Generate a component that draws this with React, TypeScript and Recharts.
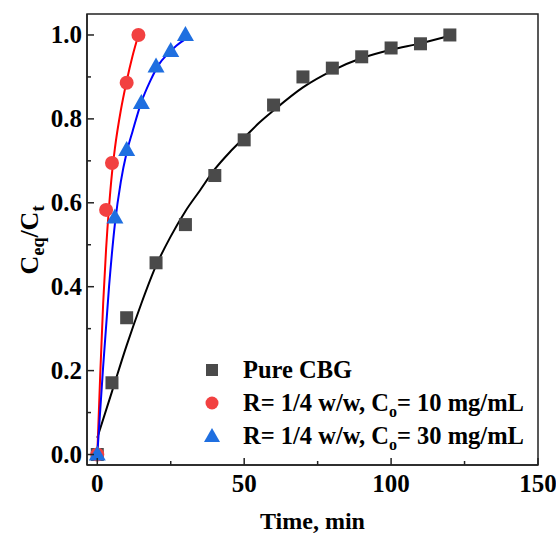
import React from 'react';
import { ComposedChart, Line, Scatter, XAxis, YAxis, ReferenceArea } from 'recharts';

// measured points
const pureTime = [0, 5, 10, 20, 30, 40, 50, 60, 70, 80, 90, 100, 110, 120];
const pureRatio = [0, 0.171, 0.326, 0.457, 0.548, 0.665, 0.75, 0.833, 0.9, 0.921, 0.948, 0.969, 0.979, 1.0];

const c10Time = [0, 3, 5, 10, 14];
const c10Ratio = [0, 0.583, 0.695, 0.886, 1.0];

const c30Time = [0, 6, 10, 15, 20, 25, 30];
const c30Ratio = [0, 0.565, 0.726, 0.838, 0.925, 0.962, 1.0];

// fitted curves
const pureFitTime = [0, 5, 10, 15, 20, 25, 30, 35, 40, 45, 50, 55, 60, 70, 80, 90, 100, 110, 120];
const pureFitRatio = [0.04, 0.15, 0.26, 0.36, 0.45, 0.52, 0.58, 0.63, 0.68, 0.72, 0.755, 0.79, 0.82, 0.875, 0.915, 0.945, 0.965, 0.98, 0.998];

const c10FitTime = [0, 1, 2, 3, 4, 5, 6, 8, 10, 12, 14];
const c10FitRatio = [0, 0.19, 0.36, 0.49, 0.59, 0.67, 0.73, 0.82, 0.89, 0.95, 1.0];

const c30FitTime = [0, 2, 4, 6, 8, 10, 12, 15, 18, 21, 24, 27, 30];
const c30FitRatio = [0, 0.21, 0.4, 0.55, 0.65, 0.72, 0.77, 0.84, 0.89, 0.93, 0.955, 0.975, 0.99];

const xTicks = [0, 25, 50, 75, 100, 125, 150];
const yTicks = [0, 0.1, 0.2, 0.3, 0.4, 0.5, 0.6, 0.7, 0.8, 0.9, 1.0];

const seriesNames = ['Pure CBG', 'R= 1/4 w/w, C|= 10 mg/mL', 'R= 1/4 w/w, C|= 30 mg/mL'];
const seriesColors = ['#4a4a4a', '#f24141', '#1f6fe0'];
const lineColors = ['#000000', '#ff0000', '#0000ff'];

const zip = (xs: number[], ys: number[]) => xs.map((x, i) => ({ x, y: ys[i] }));

const FONT = '"Liberation Serif", "Times New Roman", serif';
const AXIS = '#222';

const Square = (p: any) => <rect x={p.cx - 6.5} y={p.cy - 6.5} width={13} height={13} fill={seriesColors[0]} />;
const Circle = (p: any) => <circle cx={p.cx} cy={p.cy} r={7} fill={seriesColors[1]} />;
const Triangle = (p: any) => (
  <polygon points={`${p.cx},${p.cy - 9} ${p.cx - 8.5},${p.cy + 6} ${p.cx + 8.5},${p.cy + 6}`} fill={seriesColors[2]} />
);

const XTick = (props: any) => {
  const { x, y, payload } = props;
  const major = payload.value % 50 === 0;
  return (
    <g>
      <line x1={x} x2={x} y1={y} y2={y - (major ? 7 : 4)} stroke={AXIS} strokeWidth={1.5} />
      {major && (
        <text x={x} y={y + 27} textAnchor="middle" fontFamily={FONT} fontWeight="bold" fontSize={25} fill="#000">
          {payload.value}
        </text>
      )}
    </g>
  );
};

const YTick = (props: any) => {
  const { x, y, payload } = props;
  const major = Math.round(payload.value * 10) % 2 === 0;
  return (
    <g>
      <line x1={x} x2={x + (major ? 7 : 4)} y1={y} y2={y} stroke={AXIS} strokeWidth={1.5} />
      {major && (
        <text x={x - 5} y={y + 8} textAnchor="end" fontFamily={FONT} fontWeight="bold" fontSize={25} fill="#000">
          {payload.value.toFixed(1)}
        </text>
      )}
    </g>
  );
};

const marker = (i: number) => {
  if (i === 0) return <rect x={6} y={6} width={12} height={12} fill={seriesColors[0]} />;
  if (i === 1) return <circle cx={12} cy={12} r={6.5} fill={seriesColors[1]} />;
  return <polygon points="12,4 4,18 20,18" fill={seriesColors[2]} />;
};

const LegendBox = () => (
  <div style={{ position: 'absolute', left: 200, top: 353, fontFamily: FONT, fontWeight: 'bold', fontSize: 24.5, color: '#000' }}>
    {seriesNames.map((name, i) => {
      const parts = name.split('|');
      return (
        <div key={name} style={{ display: 'flex', alignItems: 'center', height: 33, whiteSpace: 'nowrap' }}>
          <svg width={24} height={24} style={{ marginRight: 19 }}>{marker(i)}</svg>
          <span>
            {parts[0]}
            {parts.length > 1 && <sub style={{ fontSize: 16, lineHeight: 0 }}>o</sub>}
            {parts[1]}
          </span>
        </div>
      );
    })}
  </div>
);

const YTitle = () => {
  const cy = 240;
  const bx = 38;
  return (
    <text x={bx} y={cy} transform={`rotate(-90, ${bx}, ${cy})`} textAnchor="middle" fontFamily={FONT} fontWeight="bold" fontSize={26} fill="#000">
      <tspan>C</tspan>
      <tspan dy={6} fontSize={18}>eq</tspan>
      <tspan dy={-6}>/C</tspan>
      <tspan dy={6} fontSize={18}>t</tspan>
    </text>
  );
};

const XTitle = (props: any) => {
  const vb = props.viewBox || { x: 87, y: 465, width: 451 };
  return (
    <text x={vb.x + vb.width / 2} y={vb.y + 64} textAnchor="middle" fontFamily={FONT} fontWeight="bold" fontSize={24} fill="#000">
      Time, min
    </text>
  );
};

export default function App() {
  return (
    <div style={{ position: 'absolute', left: 0, top: 0, width: 556, height: 535, background: '#fff' }}>
      <ComposedChart width={556} height={535} margin={{ top: 14, right: 18, left: 0, bottom: 0 }}>
        <XAxis
          dataKey="x"
          type="number"
          domain={[-3.5, 150]}
          allowDataOverflow
          ticks={xTicks}
          tick={<XTick />}
          tickSize={0}
          tickMargin={0}
          tickLine={false}
          axisLine={{ stroke: AXIS, strokeWidth: 1.5 }}
          height={70}
          label={<XTitle />}
        />
        <YAxis
          type="number"
          domain={[-0.025, 1.05]}
          allowDataOverflow
          ticks={yTicks}
          tick={<YTick />}
          tickSize={0}
          tickMargin={0}
          tickLine={false}
          axisLine={{ stroke: AXIS, strokeWidth: 1.5 }}
          width={87}
          label={<YTitle />}
        />
        <ReferenceArea x1={-3.5} x2={150} y1={-0.025} y2={1.05} fill="none" stroke={AXIS} strokeWidth={1.5} ifOverflow="visible" />
        <Line data={zip(pureFitTime, pureFitRatio)} dataKey="y" type="monotone" stroke={lineColors[0]} strokeWidth={2} dot={false} isAnimationActive={false} />
        <Line data={zip(c10FitTime, c10FitRatio)} dataKey="y" type="monotone" stroke={lineColors[1]} strokeWidth={2} dot={false} isAnimationActive={false} />
        <Line data={zip(c30FitTime, c30FitRatio)} dataKey="y" type="monotone" stroke={lineColors[2]} strokeWidth={2} dot={false} isAnimationActive={false} />
        <Scatter data={zip(pureTime, pureRatio)} dataKey="y" shape={<Square />} isAnimationActive={false} name={seriesNames[0]} />
        <Scatter data={zip(c10Time, c10Ratio)} dataKey="y" shape={<Circle />} isAnimationActive={false} name={seriesNames[1]} />
        <Scatter data={zip(c30Time, c30Ratio)} dataKey="y" shape={<Triangle />} isAnimationActive={false} name={seriesNames[2]} />
      </ComposedChart>
      <LegendBox />
    </div>
  );
}
